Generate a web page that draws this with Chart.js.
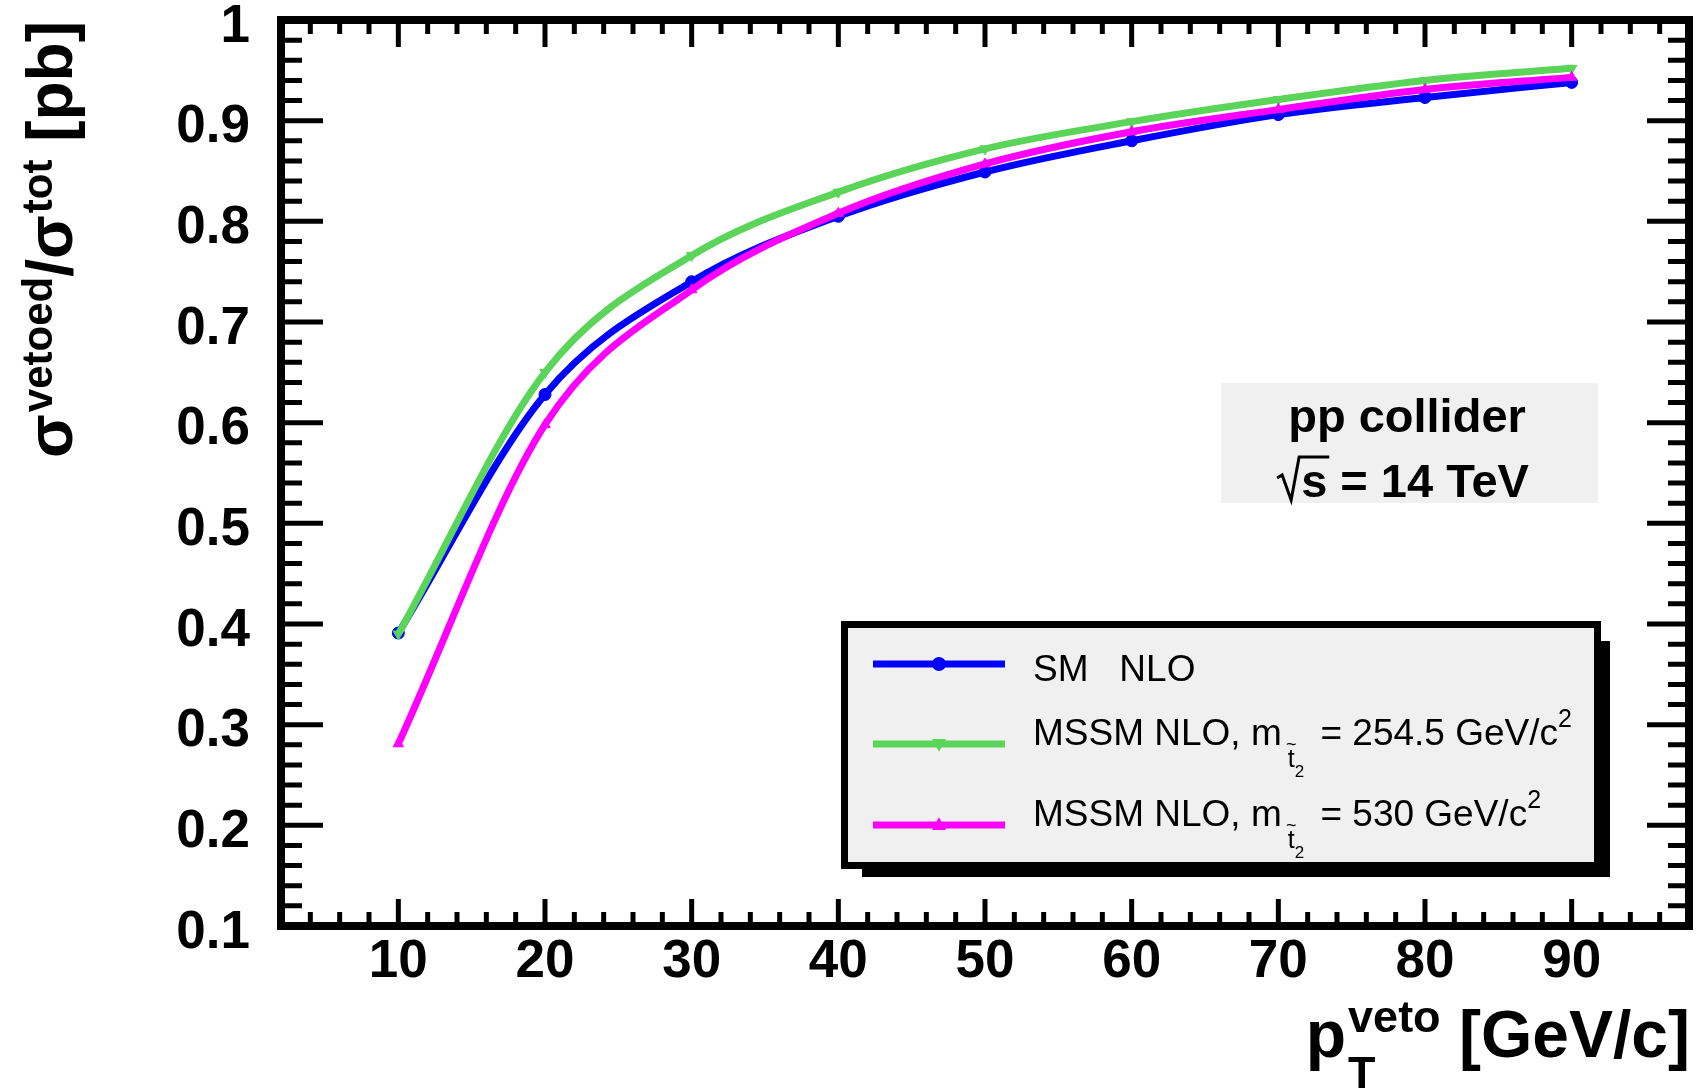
<!DOCTYPE html>
<html>
<head>
<meta charset="utf-8">
<title>Vetoed cross section fraction</title>
<script src="https://cdn.jsdelivr.net/npm/chart.js@4.4.1/dist/chart.umd.min.js"></script>
<style>
  html, body { margin: 0; padding: 0; background: #fff; }
  canvas { display: block; }
</style>
</head>
<body>
<canvas id="vetoChart" width="1696" height="1089"></canvas>
<script>
// pT veto values (GeV/c)
const ptVeto = [10, 20, 30, 40, 50, 60, 70, 80, 90];

// sigma_vetoed / sigma_tot
const smNLO     = [0.391, 0.628, 0.740, 0.805, 0.849, 0.880, 0.906, 0.923, 0.938];
const mssm254   = [0.390, 0.650, 0.766, 0.829, 0.872, 0.899, 0.921, 0.940, 0.952];
const mssm530   = [0.281, 0.598, 0.732, 0.808, 0.857, 0.889, 0.911, 0.931, 0.943];

const xTickValues = [10, 20, 30, 40, 50, 60, 70, 80, 90];
const yTickValues = [0.1, 0.2, 0.3, 0.4, 0.5, 0.6, 0.7, 0.8, 0.9, 1.0];
const yTickLabels = ["0.1", "0.2", "0.3", "0.4", "0.5", "0.6", "0.7", "0.8", "0.9", "1"];

const FONT = '"Liberation Sans", Arial, Helvetica, sans-serif';
const BLUE = "#0000ff";
const GREEN = "#5ad55a";
const MAGENTA = "#ff00ff";

function pts(ys) {
  return ptVeto.map((x, i) => ({ x: x, y: ys[i] }));
}

function series(label, ys, color, style, rot, order) {
  return {
    label: label,
    data: pts(ys),
    borderColor: color,
    backgroundColor: color,
    borderWidth: 7,
    cubicInterpolationMode: "monotone",
    pointStyle: style,
    pointRotation: rot,
    pointRadius: 6,
    pointBorderWidth: 1,
    pointBorderColor: color,
    pointBackgroundColor: color,
    order: order
  };
}

// small marker for the legend
function marker(ctx, style, x, y, r, color, rot) {
  ctx.save();
  ctx.fillStyle = color;
  ctx.beginPath();
  if (style === "circle") {
    ctx.arc(x, y, r, 0, Math.PI * 2);
  } else {
    const s = rot ? -1 : 1;
    ctx.moveTo(x, y - s * r * 1.1);
    ctx.lineTo(x + r, y + s * r * 0.7);
    ctx.lineTo(x - r, y + s * r * 0.7);
    ctx.closePath();
  }
  ctx.fill();
  ctx.restore();
}

// draws pieces of text one after another, returns total advance
function textRun(ctx, parts, x, y, measureOnly) {
  let cx = x;
  parts.forEach(p => {
    ctx.font = (p.bold ? "bold " : "") + p.size + "px " + FONT;
    if (p.stack) {
      let w = 0;
      p.stack.forEach(q => {
        ctx.font = (q.bold ? "bold " : "") + q.size + "px " + FONT;
        if (!measureOnly) ctx.fillText(q.text, cx, y + q.dy);
        w = Math.max(w, ctx.measureText(q.text).width);
      });
      cx += w;
      return;
    }
    if (!measureOnly) ctx.fillText(p.text, cx, y + (p.dy || 0));
    cx += ctx.measureText(p.text).width + (p.after || 0);
  });
  return cx - x;
}

const framePlugin = {
  id: "frame",
  afterDatasetsDraw(chart) {
    const ctx = chart.ctx;
    const a = chart.chartArea;
    const xs = chart.scales.x, ys = chart.scales.y;
    ctx.save();
    ctx.strokeStyle = "#000";
    ctx.lineCap = "butt";

    // tick marks on all four sides, pointing inwards
    ctx.lineWidth = 5;
    ctx.beginPath();
    for (let i = 0; ; i++) {
      const v = 4 + i * 2;
      if (v > 96.001) break;
      const px = xs.getPixelForValue(v);
      const len = (v % 10 === 0) ? 27 : 14;
      ctx.moveTo(px, a.bottom); ctx.lineTo(px, a.bottom - len);
      ctx.moveTo(px, a.top); ctx.lineTo(px, a.top + len);
    }
    for (let i = 0; ; i++) {
      const v = 0.1 + i * 0.02;
      if (v > 1.0001) break;
      const py = ys.getPixelForValue(v);
      const len = (i % 5 === 0) ? 42 : 21;
      ctx.moveTo(a.left, py); ctx.lineTo(a.left + len, py);
      ctx.moveTo(a.right, py); ctx.lineTo(a.right - len, py);
    }
    ctx.stroke();

    ctx.lineWidth = 8;
    ctx.lineJoin = "miter";
    ctx.strokeRect(a.left, a.top, a.right - a.left, a.bottom - a.top);
    ctx.restore();
  },
  afterDraw(chart) {
    const ctx = chart.ctx;
    ctx.save();
    ctx.fillStyle = "#000";
    ctx.textBaseline = "alphabetic";
    ctx.textAlign = "left";

    // collider info box
    ctx.fillStyle = "#f0f0f0";
    ctx.fillRect(1221, 383, 377, 120);
    ctx.fillStyle = "#000";
    ctx.font = "bold 47px " + FONT;
    ctx.textAlign = "center";
    ctx.fillText("pp collider", 1407, 432);
    ctx.textAlign = "left";
    const rest = "s = 14 TeV";
    const sw = ctx.measureText("s").width;
    const rw = ctx.measureText(rest).width;
    const rad = 24;
    const x0 = 1403 - (rad + rw) / 2, yb = 497;
    ctx.fillText(rest, x0 + rad, yb);
    ctx.lineWidth = 3;
    ctx.strokeStyle = "#000";
    ctx.beginPath();
    ctx.moveTo(x0, yb - 19);
    ctx.lineTo(x0 + 5, yb - 22);
    ctx.lineTo(x0 + 14, yb + 3);
    ctx.lineTo(x0 + 22, yb - 40);
    ctx.lineTo(x0 + rad + sw + 2, yb - 40);
    ctx.stroke();

    // legend box with shadow
    ctx.fillStyle = "#000";
    ctx.fillRect(1601, 641, 9, 236);
    ctx.fillRect(862, 866, 748, 11);
    ctx.fillStyle = "#f0f0f0";
    ctx.fillRect(841, 621, 760, 248);
    ctx.lineWidth = 7;
    ctx.strokeStyle = "#000";
    ctx.strokeRect(844.5, 624.5, 753, 241);

    const rows = [
      { color: BLUE, style: "circle", rot: 0, ly: 664, ty: 681,
        parts: [{ text: "SM   NLO", size: 37 }] },
      { color: GREEN, style: "triangle", rot: 180, ly: 744, ty: 745,
        parts: [
          { text: "MSSM NLO, m", size: 37, after: 6 },
          { text: "t", size: 25, dy: 22, tilde: true },
          { text: "2", size: 17, dy: 32, after: 6 },
          { text: " = 254.5 GeV/c", size: 37 },
          { text: "2", size: 25, dy: -18 }
        ] },
      { color: MAGENTA, style: "triangle", rot: 0, ly: 825, ty: 826,
        parts: [
          { text: "MSSM NLO, m", size: 37, after: 6 },
          { text: "t", size: 25, dy: 22, tilde: true },
          { text: "2", size: 17, dy: 32, after: 6 },
          { text: " = 530 GeV/c", size: 37 },
          { text: "2", size: 25, dy: -18 }
        ] }
    ];
    rows.forEach(r => {
      ctx.strokeStyle = r.color;
      ctx.lineWidth = 7;
      ctx.beginPath();
      ctx.moveTo(873, r.ly);
      ctx.lineTo(1005, r.ly);
      ctx.stroke();
      marker(ctx, r.style, 939, r.ly, 7, r.color, r.rot);

      ctx.fillStyle = "#000";
      let cx = 1033;
      r.parts.forEach(p => {
        ctx.font = p.size + "px " + FONT;
        const y = r.ty + (p.dy || 0);
        ctx.fillText(p.text, cx, y);
        const w = ctx.measureText(p.text).width;
        if (p.tilde) {
          ctx.font = "18px " + FONT;
          ctx.textAlign = "center";
          ctx.fillText("~", cx + w / 2, y - 17);
          ctx.textAlign = "left";
        }
        cx += w + (p.after || 0);
      });
    });

    // x axis title: p_T^veto [GeV/c]
    ctx.fillStyle = "#000";
    const xTitle = [
      { text: "p", size: 66, bold: true, after: 2 },
      { stack: [
        { text: "T", size: 45, bold: true, dy: 31 },
        { text: "veto", size: 45, bold: true, dy: -25 }
      ] },
      { text: " [GeV/c]", size: 66, bold: true }
    ];
    const xw = textRun(ctx, xTitle, 0, 0, true);
    textRun(ctx, xTitle, 1690 - xw, 1057, false);

    // y axis title: sigma^vetoed / sigma^tot [pb], reading upwards
    const yTitle = [
      { text: "\u03c3", size: 64, bold: true, after: 2 },
      { text: "vetoed", size: 42, bold: true, dy: -20 },
      { text: "/\u03c3", size: 64, bold: true, after: 2 },
      { text: "tot", size: 42, bold: true, dy: -20 },
      { text: " [pb]", size: 64, bold: true }
    ];
    const yw = textRun(ctx, yTitle, 0, 0, true);
    ctx.translate(72, 21 + yw);
    ctx.rotate(-Math.PI / 2);
    textRun(ctx, yTitle, 0, 0, false);
    ctx.restore();
  }
};

new Chart(document.getElementById("vetoChart"), {
  type: "line",
  data: {
    datasets: [
      series("SM   NLO", smNLO, BLUE, "circle", 0, 3),
      series("MSSM NLO, 254.5", mssm254, GREEN, "triangle", 180, 2),
      series("MSSM NLO, 530", mssm530, MAGENTA, "triangle", 0, 1)
    ]
  },
  options: {
    responsive: false,
    animation: false,
    events: [],
    layout: { padding: { top: 20, right: 4, left: 0, bottom: 0 } },
    plugins: {
      legend: { display: false },
      tooltip: { enabled: false }
    },
    scales: {
      x: {
        type: "linear",
        min: 2,
        max: 98,
        grid: { display: false },
        border: { display: false },
        afterBuildTicks: s => { s.ticks = xTickValues.map(v => ({ value: v })); },
        afterFit: s => { s.height = 163; s.paddingLeft = 0; s.paddingRight = 0; },
        ticks: {
          autoSkip: false,
          maxRotation: 0,
          padding: -3,
          color: "#000",
          font: { family: FONT, size: 53, weight: "bold" },
          callback: v => String(v)
        }
      },
      y: {
        type: "linear",
        min: 0.1,
        max: 1.0,
        grid: { display: false },
        border: { display: false },
        afterBuildTicks: s => { s.ticks = yTickValues.map(v => ({ value: v })); },
        afterFit: s => { s.width = 281; s.paddingTop = 0; s.paddingBottom = 0; },
        ticks: {
          autoSkip: false,
          padding: 23,
          labelOffset: 7,
          color: "#000",
          font: { family: FONT, size: 53, weight: "bold" },
          callback: (v, i) => yTickLabels[i]
        }
      }
    }
  },
  plugins: [framePlugin]
});
</script>
</body>
</html>
